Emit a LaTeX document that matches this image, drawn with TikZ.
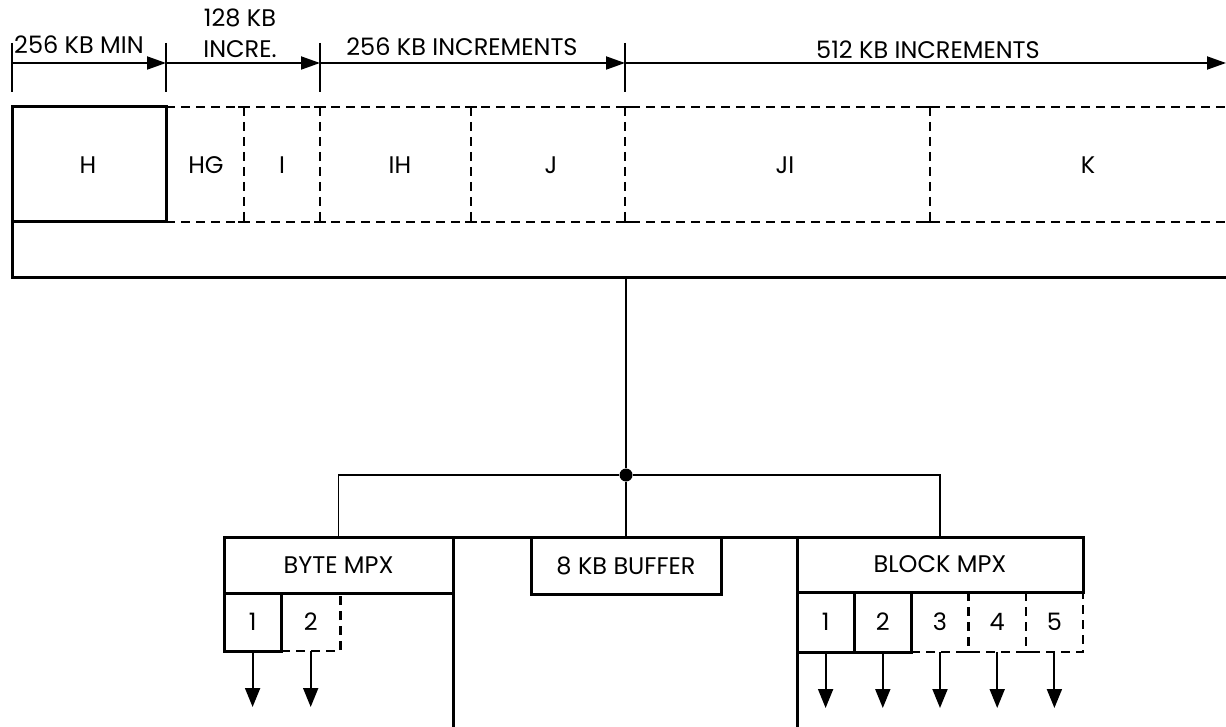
\documentclass[tikz,border=0pt]{standalone}
\usepackage{fontspec}
\setmainfont{Poppins}
\usetikzlibrary{positioning, arrows.meta, calc}

\begin{document}
\begin{tikzpicture}[
    x=1pt, y=-1pt,
    font=\fontsize{24}{28}\selectfont,
    thickline/.style={line width=3pt},
    dashline/.style={line width=2.6pt, dash pattern=on 9pt off 6pt},
    capline/.style={line width=2.6pt},
    conn/.style={line width=1.9pt},
    dimarrow/.style={-{Triangle[length=19pt, width=13pt]}, line width=1.9pt},
    outarrow/.style={-{Triangle[length=19pt, width=15pt]}, line width=1.9pt},
    unitbox/.style={draw, line width=3pt, minimum height=56pt, inner sep=0pt, outer sep=0pt},
    chanbox/.style={line width=3pt, minimum width=57.2pt, minimum height=58pt, inner sep=0pt, outer sep=0pt},
    memlabel/.style={inner sep=0pt},
    dimlabel/.style={inner sep=0pt, anchor=base}
]
\useasboundingbox (0,0) rectangle (1226,727);
\coordinate (page_bot) at (0,727);

% Size scale: ticks and arrows
\foreach \x/\n in {12/dim0, 166/dim1, 320/dim2, 625/dim3} {
    \coordinate (\n) at (\x,63);
    \draw[conn] (\x,43) -- (\x,92);
}
\coordinate (dim4) at (1226,63);
\draw[dimarrow] (dim0) -- (dim1);
\draw[dimarrow] (dim1) -- (dim2);
\draw[dimarrow] (dim2) -- (dim3);
\draw[dimarrow] (dim3) -- (dim4);

\node[dimlabel, anchor=base west] (min_lbl) at (14,54) {256 KB MIN};
\node[dimlabel] (incr128_top) at (240,27) {128 KB};
\node[dimlabel] (incr128) at (240,58) {INCRE.};
\node[dimlabel] (incr256) at (462,56) {256 KB INCREMENTS};
\node[dimlabel] (incr512) at (928,59) {512 KB INCREMENTS};

% Main storage: H solid, the rest dashed
\draw[thickline] (12,107) rectangle (166,222);
\draw[thickline] (12,222) |- (1226,278);
\draw[dashline] (166,107) -- (1226,107);
\draw[dashline] (166,222) -- (1226,222);
\foreach \x in {244,320,471,625,930} {
    \draw[dashline] (\x,107) -- (\x,222);
    \draw[capline] (\x-6,107) -- (\x+6,107);
    \draw[capline] (\x-6,222) -- (\x+6,222);
}
\foreach \x/\t in {88/H, 206/HG, 282/I, 400/IH, 551/J, 785/JI, 1088/K}
    \node[memlabel] (mem_\t) at (\x,165) {\t};

% Bus down to the channels
\coordinate (mem_bus) at (626,278);
\node[circle, fill, inner sep=0pt, minimum size=13pt] (hub) at (626,475) {};
\draw[conn] (mem_bus) -- (hub);

\node[unitbox, minimum width=229pt] (byte_mpx) at (338.5,565) {BYTE MPX};
\node[unitbox, minimum width=190pt, minimum height=57pt] (buffer) at (626,565.5) {8 KB BUFFER};
\node[unitbox, minimum width=286pt, minimum height=55pt] (block_mpx) at (940,564.5) {BLOCK MPX};

\draw[conn] (hub) -| (byte_mpx.north);
\draw[conn] (hub) -| (block_mpx.north);
\draw[conn] (hub) -- (buffer.north);

% Channel frame
\draw[thickline] (byte_mpx.north east) -- (block_mpx.north west);
\draw[thickline] (byte_mpx.north east) -- (byte_mpx.north east |- page_bot);
\draw[thickline] (block_mpx.north west) -- (block_mpx.north west |- page_bot);

% Byte multiplexer subchannels
\node[chanbox, draw, anchor=north west] (byte_ch1) at (byte_mpx.south west) {1};
\node[chanbox, anchor=north west, minimum width=59pt] (byte_ch2) at (byte_ch1.north east) {2};
\draw[dashline] (byte_ch2.south west) -- (byte_ch2.south east) -- (byte_ch2.north east);

% Block multiplexer subchannels
\foreach \i in {1,...,5}
    \node[chanbox, anchor=north west, minimum height=60pt] (blk_ch\i) at ($(block_mpx.south west)+({57.2*(\i-1)},0)$) {\i};
\draw[thickline] (blk_ch1.north west) rectangle (blk_ch2.south east);
\draw[thickline] (blk_ch1.north east) -- (blk_ch1.south east);
\draw[dashline] (blk_ch3.south west) -- (blk_ch5.south east) -- (blk_ch5.north east);
\foreach \i in {3,4} {
    \draw[dashline] (blk_ch\i.north east) -- (blk_ch\i.south east);
    \draw[capline] ($(blk_ch\i.south east)+(-6,0)$) -- ($(blk_ch\i.south east)+(6,0)$);
}

% Outputs
\foreach \n in {byte_ch1, byte_ch2, blk_ch1, blk_ch2, blk_ch3, blk_ch4, blk_ch5} {
    \coordinate (\n_out) at ($(\n.south)+(0,56)$);
    \draw[outarrow] (\n.south) -- (\n_out);
}

\end{tikzpicture}
\end{document}
